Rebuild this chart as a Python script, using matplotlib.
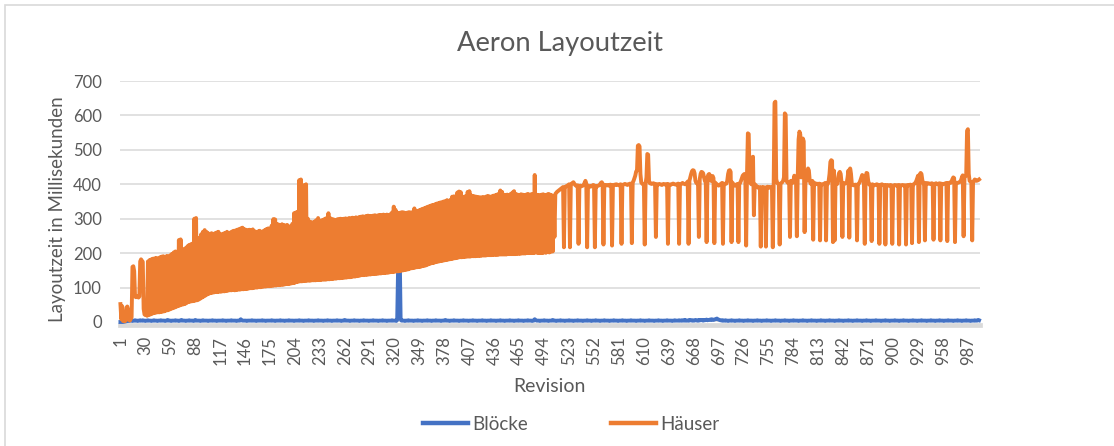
import numpy as np
import matplotlib
matplotlib.use("Agg")
import matplotlib.pyplot as plt
from matplotlib.patches import Rectangle

# Layoutzeit je Revision (ms)
haeuser = [
    52, 8, 46, 3, 5, 2, 4, 42, 45, 36, 6, 4, 9, 14, 160, 162, 148, 74, 72, 75,
    73, 71, 74, 176, 182, 178, 175, 38, 22, 20, 24, 18, 176, 20, 180, 22, 182, 24, 184, 26,
    185, 27, 186, 28, 184, 28, 188, 29, 190, 30, 191, 31, 188, 33, 192, 34, 190, 36, 194, 38,
    198, 40, 202, 42, 205, 44, 204, 46, 238, 48, 240, 50, 208, 51, 212, 52, 215, 55, 220, 58,
    224, 59, 226, 60, 228, 61, 300, 62, 302, 63, 232, 65, 245, 68, 255, 71, 262, 74, 267, 77,
    262, 80, 258, 82, 256, 84, 258, 85, 255, 86, 258, 87, 260, 87, 262, 88, 256, 88, 254, 89,
    257, 89, 259, 90, 262, 91, 258, 92, 260, 92, 263, 93, 265, 92, 266, 93, 268, 94, 270, 94,
    272, 95, 274, 95, 270, 96, 268, 96, 266, 97, 268, 98, 267, 98, 269, 99, 264, 100, 262, 100,
    263, 101, 265, 101, 262, 102, 264, 103, 267, 103, 270, 104, 272, 104, 271, 105, 280, 105, 299, 106,
    298, 106, 285, 107, 283, 107, 282, 108, 284, 108, 282, 109, 280, 110, 282, 110, 278, 111, 275, 112,
    285, 113, 316, 114, 318, 116, 320, 117, 412, 118, 414, 118, 300, 119, 398, 119, 400, 120, 300, 120,
    292, 120, 290, 121, 289, 121, 292, 121, 296, 122, 302, 122, 294, 122, 295, 123, 297, 123, 300, 123,
    302, 124, 316, 124, 302, 125, 299, 125, 298, 126, 296, 126, 298, 127, 299, 127, 300, 128, 299, 128,
    300, 129, 301, 129, 300, 130, 302, 130, 301, 131, 303, 132, 302, 132, 304, 133, 303, 134, 305, 135,
    306, 136, 307, 136, 306, 137, 308, 137, 309, 138, 308, 138, 307, 139, 309, 139, 310, 140, 309, 140,
    310, 141, 311, 141, 310, 142, 312, 142, 311, 143, 312, 143, 311, 144, 313, 145, 318, 145, 335, 146,
    326, 147, 318, 147, 317, 148, 318, 149, 319, 150, 318, 151, 317, 152, 318, 153, 319, 155, 318, 156,
    319, 157, 330, 158, 322, 159, 323, 160, 325, 160, 327, 162, 329, 163, 331, 164, 333, 166, 335, 168,
    337, 170, 339, 171, 340, 172, 342, 174, 344, 175, 345, 176, 347, 177, 348, 178, 350, 179, 351, 180,
    354, 181, 352, 182, 355, 183, 364, 184, 365, 185, 356, 186, 376, 187, 379, 188, 377, 188, 362, 189,
    364, 189, 366, 190, 378, 190, 380, 190, 368, 191, 366, 191, 365, 191, 364, 192, 363, 192, 362, 192,
    362, 193, 363, 193, 362, 193, 365, 194, 366, 194, 364, 194, 365, 195, 367, 195, 368, 195, 370, 195,
    372, 196, 382, 196, 378, 196, 370, 196, 369, 196, 370, 197, 368, 197, 372, 197, 376, 197, 380, 197,
    372, 198, 370, 198, 369, 198, 371, 199, 370, 199, 369, 199, 370, 200, 372, 200, 370, 200, 371, 200,
    372, 200, 427, 202, 370, 201, 369, 200, 368, 201, 370, 200, 371, 202, 369, 201, 370, 203, 372, 202,
    370, 204, 368, 205, 362, 247, 372, 375, 378, 380, 382, 384, 386, 388, 390, 392, 217, 390, 393, 395,
    396, 398, 400, 217, 398, 402, 404, 406, 402, 398, 396, 395, 397, 227, 395, 396, 394, 395, 396, 398,
    404, 410, 402, 217, 396, 395, 394, 393, 395, 396, 398, 397, 217, 394, 393, 395, 396, 397, 400, 404,
    406, 402, 225, 398, 396, 397, 398, 397, 396, 398, 399, 398, 222, 397, 398, 399, 398, 400, 399, 398,
    397, 399, 400, 227, 398, 399, 400, 401, 400, 399, 398, 400, 401, 402, 400, 229, 405, 410, 418, 425,
    437, 440, 512, 514, 510, 430, 405, 402, 400, 401, 225, 402, 420, 488, 486, 410, 403, 402, 401, 402,
    403, 402, 401, 247, 400, 399, 400, 401, 400, 399, 398, 400, 401, 400, 399, 400, 401, 227, 400, 399,
    398, 400, 401, 402, 401, 400, 399, 400, 401, 402, 227, 400, 401, 402, 404, 402, 401, 400, 402, 404,
    408, 227, 410, 420, 430, 438, 441, 440, 432, 410, 404, 402, 405, 247, 415, 430, 436, 435, 432, 420,
    410, 405, 232, 420, 428, 430, 425, 410, 420, 424, 418, 229, 405, 402, 400, 398, 396, 398, 400, 402,
    404, 227, 402, 400, 401, 402, 410, 430, 440, 441, 436, 232, 405, 400, 398, 396, 398, 400, 401, 232,
    402, 404, 410, 418, 425, 428, 430, 425, 222, 430, 548, 546, 420, 405, 400, 478, 480, 310, 400, 398,
    395, 392, 390, 391, 392, 219, 391, 390, 392, 391, 390, 219, 392, 393, 391, 390, 392, 391, 392, 217,
    395, 636, 640, 415, 405, 402, 400, 225, 402, 404, 406, 410, 420, 606, 602, 410, 405, 404, 406, 247,
    410, 405, 404, 410, 425, 420, 415, 249, 420, 530, 553, 545, 420, 520, 533, 525, 261, 405, 410, 430,
    446, 440, 410, 402, 405, 410, 239, 405, 402, 400, 402, 401, 400, 402, 237, 400, 399, 400, 401, 402,
    404, 237, 402, 401, 410, 430, 465, 470, 468, 232, 440, 237, 405, 402, 401, 420, 432, 436, 430, 405,
    247, 404, 403, 402, 403, 404, 420, 440, 245, 446, 430, 400, 398, 397, 398, 399, 398, 237, 400, 402,
    405, 412, 420, 427, 425, 405, 227, 420, 433, 432, 410, 400, 398, 399, 235, 400, 398, 397, 398, 399,
    400, 399, 398, 227, 398, 399, 400, 398, 397, 398, 225, 397, 398, 397, 396, 397, 398, 397, 227, 396,
    397, 398, 397, 396, 397, 398, 225, 397, 396, 397, 398, 397, 396, 397, 225, 397, 398, 397, 398, 399,
    398, 229, 399, 400, 402, 405, 410, 418, 425, 232, 428, 433, 430, 412, 403, 402, 237, 404, 403, 402,
    403, 402, 401, 402, 403, 402, 239, 401, 402, 403, 401, 400, 402, 403, 237, 402, 401, 400, 401, 402,
    403, 404, 235, 403, 404, 405, 404, 408, 415, 420, 418, 232, 405, 403, 404, 405, 406, 408, 412, 420,
    426, 249, 420, 424, 425, 555, 560, 430, 410, 408, 406, 237, 405, 410, 414, 412, 410, 411, 412, 414,
]

bloecke = [
    0, 0, 0, 0, 1, 1, 2, 2, 3, 3, 3, 4, 4, 4, 3, 4, 4, 5, 4, 4, 3, 4, 4, 5, 4,
    4, 5, 4, 4, 3, 4, 4, 5, 4, 4, 4, 3, 4, 4, 5, 4, 4, 4, 3, 4, 4, 4, 5, 4, 4,
    4, 4, 3, 4, 4, 6, 4, 4, 4, 3, 4, 4, 4, 4, 5, 4, 4, 4, 3, 4, 4, 6, 4, 4, 4,
    4, 3, 4, 4, 4, 5, 4, 4, 4, 4, 3, 4, 6, 4, 4, 4, 4, 4, 3, 4, 4, 5, 4, 4, 4,
    4, 4, 3, 4, 4, 4, 4, 5, 4, 4, 4, 4, 3, 4, 4, 4, 4, 4, 4, 5, 4, 4, 4, 3, 4,
    4, 4, 4, 4, 5, 4, 4, 4, 4, 4, 3, 4, 4, 4, 4, 8, 5, 4, 4, 4, 4, 4, 3, 4, 4,
    4, 4, 4, 5, 4, 4, 4, 4, 3, 4, 4, 4, 4, 4, 4, 5, 4, 4, 4, 3, 4, 4, 4, 4, 4,
    4, 5, 4, 4, 4, 3, 4, 4, 4, 4, 4, 5, 4, 4, 4, 4, 3, 4, 4, 4, 4, 5, 4, 4, 4,
    4, 4, 3, 4, 4, 4, 4, 4, 5, 4, 4, 4, 4, 3, 4, 4, 4, 4, 4, 5, 4, 4, 4, 4, 4,
    3, 4, 4, 4, 4, 5, 4, 4, 4, 4, 4, 3, 4, 4, 4, 4, 5, 4, 4, 4, 4, 3, 4, 4, 4,
    4, 4, 5, 4, 4, 4, 4, 3, 4, 4, 4, 6, 4, 4, 4, 4, 4, 3, 4, 4, 4, 4, 5, 4, 4,
    4, 4, 4, 3, 4, 4, 4, 4, 5, 4, 4, 4, 4, 4, 3, 4, 4, 4, 4, 5, 4, 4, 4, 4, 4,
    3, 4, 4, 4, 4, 5, 4, 4, 4, 4, 3, 4, 4, 4, 4, 4, 5, 4, 4, 4, 4, 3, 6, 150, 192,
    188, 8, 4, 4, 4, 4, 3, 4, 4, 4, 5, 4, 4, 4, 4, 4, 3, 4, 4, 4, 4, 5, 4, 4, 4,
    4, 3, 4, 4, 4, 4, 4, 5, 4, 4, 4, 4, 3, 4, 4, 4, 4, 5, 4, 4, 4, 4, 4, 3, 4,
    4, 4, 4, 6, 4, 4, 4, 4, 3, 4, 4, 4, 4, 5, 4, 4, 4, 4, 4, 3, 4, 4, 4, 4, 5,
    4, 4, 4, 4, 4, 3, 4, 4, 4, 4, 5, 4, 4, 4, 4, 3, 4, 4, 4, 4, 4, 5, 4, 4, 4,
    4, 3, 4, 4, 4, 4, 5, 4, 4, 4, 4, 4, 3, 4, 4, 4, 4, 5, 4, 4, 4, 4, 3, 4, 4,
    4, 4, 4, 5, 4, 4, 4, 4, 3, 4, 4, 4, 4, 5, 4, 4, 4, 4, 4, 3, 4, 4, 4, 4, 5,
    4, 4, 4, 4, 3, 4, 4, 8, 6, 4, 4, 4, 4, 3, 4, 4, 4, 4, 5, 4, 4, 4, 4, 3, 4,
    4, 4, 4, 6, 4, 4, 4, 3, 4, 4, 4, 4, 5, 4, 4, 4, 4, 3, 4, 4, 4, 4, 5, 4, 4,
    4, 4, 3, 4, 4, 4, 4, 5, 4, 4, 4, 4, 4, 3, 4, 4, 4, 4, 5, 4, 4, 4, 4, 3, 4,
    4, 4, 4, 5, 4, 4, 4, 4, 3, 4, 4, 4, 4, 5, 4, 4, 4, 4, 4, 3, 4, 4, 4, 4, 5,
    4, 4, 4, 4, 3, 4, 4, 4, 4, 5, 4, 4, 4, 4, 3, 4, 4, 4, 4, 5, 4, 4, 4, 4, 4,
    3, 4, 4, 4, 4, 5, 4, 4, 4, 4, 3, 4, 4, 4, 4, 5, 4, 4, 4, 4, 4, 3, 4, 4, 4,
    4, 5, 4, 4, 4, 4, 3, 4, 4, 4, 4, 5, 4, 4, 4, 4, 4, 3, 4, 4, 5, 4, 4, 4, 4,
    5, 4, 4, 5, 4, 4, 6, 4, 5, 4, 4, 5, 4, 6, 5, 4, 5, 4, 4, 6, 5, 4, 5, 4, 6,
    5, 6, 5, 4, 6, 5, 6, 7, 5, 6, 6, 7, 6, 8, 7, 6, 7, 8, 9, 10, 8, 7, 6, 5, 5,
    4, 5, 4, 4, 5, 4, 4, 3, 4, 4, 4, 5, 4, 4, 4, 3, 4, 4, 4, 4, 5, 4, 4, 4, 4,
    3, 4, 4, 4, 4, 5, 4, 4, 4, 4, 4, 3, 4, 4, 4, 4, 5, 4, 4, 4, 4, 3, 4, 4, 4,
    4, 4, 5, 4, 4, 4, 4, 3, 4, 4, 4, 4, 5, 4, 4, 4, 4, 4, 3, 4, 4, 4, 4, 5, 4,
    4, 4, 4, 3, 4, 4, 4, 4, 5, 4, 4, 4, 4, 4, 3, 4, 4, 4, 4, 5, 4, 4, 4, 4, 3,
    4, 4, 4, 4, 5, 4, 4, 4, 4, 4, 3, 4, 4, 4, 4, 5, 4, 4, 4, 4, 3, 4, 4, 4, 4,
    5, 4, 4, 4, 4, 4, 3, 4, 4, 4, 4, 5, 4, 4, 4, 4, 3, 4, 4, 4, 4, 4, 5, 4, 4,
    4, 4, 3, 4, 4, 4, 4, 5, 4, 4, 4, 4, 4, 3, 4, 4, 4, 4, 5, 4, 4, 4, 4, 3, 4,
    4, 4, 4, 4, 5, 4, 4, 4, 4, 4, 3, 4, 4, 4, 4, 5, 4, 4, 4, 4, 3, 4, 4, 4, 4,
    4, 5, 4, 4, 4, 4, 3, 4, 4, 4, 4, 5, 4, 4, 4, 4, 4, 3, 4, 4, 4, 4, 5, 4, 4,
    4, 4, 3, 4, 4, 4, 4, 5, 4, 4, 4, 4, 4, 3, 4, 4, 4, 4, 5, 4, 4, 4, 4, 3, 4,
    4, 4, 4, 5, 4, 4, 4, 4, 3, 4, 4, 4, 4, 5, 4, 4, 4, 4, 4, 3, 4, 4, 4, 4, 5,
    4, 4, 4, 4, 3, 4, 4, 4, 4, 5, 4, 4, 4, 4, 3, 4, 4, 4, 4, 5, 4, 4, 4, 6, 5,
]

revisionen = list(range(1, 1001))
y_ticks = [0, 100, 200, 300, 400, 500, 600, 700]

BLAU = "#4472C4"
ORANGE = "#ED7D31"
GRAU = "#595959"
RASTER = "#D9D9D9"

plt.rcParams['font.family'] = ['Lato', 'DejaVu Sans']

fig = plt.figure(figsize=(11.14, 4.46), dpi=100)
ax = fig.add_axes([120 / 1114, 1 - 322 / 446, 859.5 / 1114, 241 / 446])

x_b = np.arange(1, len(bloecke) + 1)
x_h = np.arange(1, len(haeuser) + 1)
ax.plot(x_b, bloecke, color=BLAU, lw=2.8, solid_joinstyle='round', zorder=3, clip_on=False, label="Blöcke")
ax.plot(x_h, haeuser, color=ORANGE, lw=2.8, solid_joinstyle='round', zorder=4, clip_on=False, label="Häuser")

# graue Achsenlinie unterhalb der Null
ax.axhline(-9, color=RASTER, lw=3.4, clip_on=False, zorder=1)

ax.set_xlim(0.5, len(revisionen) + 0.5)
ax.set_ylim(0, 700)
ax.set_yticks(y_ticks)
ax.set_yticklabels([str(v) for v in y_ticks])
tick_pos = revisionen[::29]
ax.set_xticks(tick_pos)
ax.set_xticklabels([str(r) for r in tick_pos], rotation=90)
ax.tick_params(axis='both', length=0, colors=GRAU, labelsize=12)
ax.tick_params(axis='y', pad=13)
ax.tick_params(axis='x', pad=10)
ax.grid(axis='y', color=RASTER, lw=1.1)
ax.set_axisbelow(True)
for s in ax.spines.values():
    s.set_visible(False)

fig.text(560 / 1114, 1 - 43 / 446, "Aeron Layoutzeit", ha='center', va='center', fontsize=19.7, color=GRAU)
fig.text(57 / 1114, 1 - 209 / 446, "Layoutzeit in Millisekunden", ha='center', va='center',
         rotation=90, fontsize=13.5, color=GRAU)
fig.text(549 / 1114, 1 - 386 / 446, "Revision", ha='center', va='center', fontsize=14, color=GRAU)

leg = fig.legend(loc='center', bbox_to_anchor=(571 / 1114, 1 - 424 / 446), ncol=2, frameon=False,
                 fontsize=13.5, handlelength=2.4, handletextpad=0.25, columnspacing=4.4)
for t in leg.get_texts():
    t.set_color(GRAU)
for h in leg.get_lines():
    h.set_linewidth(3.2)

# Rahmen des Diagrammbereichs
fig.patches.append(Rectangle((5 / 1114, -0.1), 1.2, 1 - 5 / 446 + 0.1, transform=fig.transFigure,
                             fill=False, edgecolor=RASTER, lw=1.2))

fig.savefig("out.png", dpi=100)
